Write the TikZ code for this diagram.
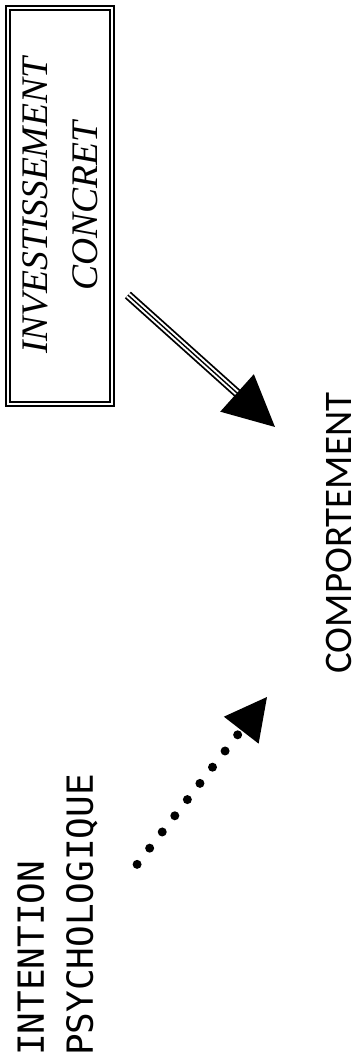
\documentclass[tikz,border=0pt]{standalone}
\usepackage{fontspec}
\setmainfont{Liberation Serif}
\newfontfamily\monofont{DejaVu Sans Mono}
\newfontfamily\roundfont{Carlito}
\usetikzlibrary{arrows.meta, positioning}

\begin{document}
\begin{tikzpicture}[
    rotate=90, transform shape, x=1pt, y=1pt,
    box/.style={rectangle, draw, line width=2pt, double, double distance=2pt, minimum width=396pt, minimum height=104pt, inner sep=0pt, align=center, font=\fontsize{37.5}{50}\selectfont\itshape},
    word/.style={inner sep=0pt, align=left},
    arrow/.style={-{Triangle[length=51pt, width=50pt]}, line width=1.4pt, preaction={draw, -, line width=9pt, shorten >=48pt}, preaction={draw=white, -, line width=5.4pt, shorten >=48pt}},
    dotarrow/.style={-{Triangle[length=42pt, width=44pt, line width=0pt]}, line width=9pt, line cap=round, dash pattern=on 0pt off 20.5pt}
]
\useasboundingbox (0,0) rectangle (1063,360);
\node[word, anchor=north west, font=\fontsize{36}{49}\selectfont\monofont] (intent) at (7,343) {INTENTION\\PSYCHOLOGIQUE};
\node[box] (invest) at (857,300) {INVESTISSEMENT\\CONCRET};
\node[word, font=\fontsize{39}{40}\selectfont\roundfont] (comport) at (530,21) {COMPORTEMENT};

\coordinate (dottip) at (366,93);
\coordinate (thicktip) at (636,85);

\draw[dotarrow, shorten <=64pt] (intent.south) -- (dottip);
\draw[arrow, shorten <=20pt] (invest.215) -- (thicktip);
\end{tikzpicture}
\end{document}
